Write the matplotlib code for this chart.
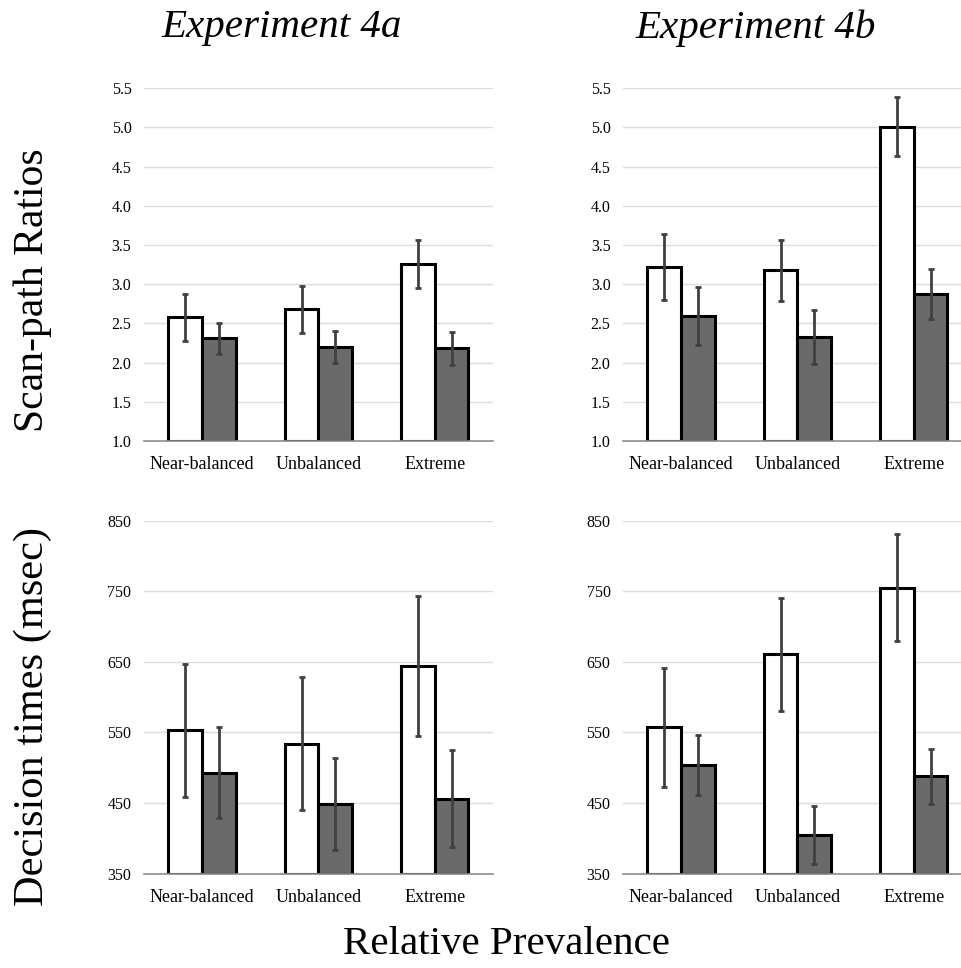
import matplotlib
matplotlib.use("Agg")
import matplotlib.pyplot as plt
import numpy as np

plt.rcParams['font.family'] = ['Liberation Serif', 'DejaVu Serif']

categories = ["Near-balanced", "Unbalanced", "Extreme"]

# Scan-path ratios
sr4a_white = [2.58, 2.68, 3.26]
sr4a_white_err = [0.30, 0.30, 0.31]
sr4a_grey = [2.31, 2.20, 2.18]
sr4a_grey_err = [0.20, 0.20, 0.21]

sr4b_white = [3.22, 3.18, 5.01]
sr4b_white_err = [0.42, 0.39, 0.375]
sr4b_grey = [2.59, 2.33, 2.87]
sr4b_grey_err = [0.37, 0.345, 0.32]

# Decision times
dt4a_white = [553, 534, 644]
dt4a_white_err = [94, 94, 99]
dt4a_grey = [493, 449, 456]
dt4a_grey_err = [65, 65, 69]

dt4b_white = [557, 661, 755]
dt4b_white_err = [84, 80, 76]
dt4b_grey = [504, 405, 488]
dt4b_grey_err = [43, 41, 39]

sr_ticks = [1.0, 1.5, 2.0, 2.5, 3.0, 3.5, 4.0, 4.5, 5.0, 5.5]
dt_ticks = [350, 450, 550, 650, 750, 850]

fig = plt.figure(figsize=(9.61, 9.68), dpi=100)

W = 0.363
H = 0.3645
positions = {
    (0, 0): [0.1498, 0.5444, W, H],
    (0, 1): [0.6483, 0.5444, W, H],
    (1, 0): [0.1498, 0.0976, W, H],
    (1, 1): [0.6483, 0.0976, W, H],
}

panels = [
    ((0, 0), sr4a_white, sr4a_white_err, sr4a_grey, sr4a_grey_err, sr_ticks, "{:.1f}"),
    ((0, 1), sr4b_white, sr4b_white_err, sr4b_grey, sr4b_grey_err, sr_ticks, "{:.1f}"),
    ((1, 0), dt4a_white, dt4a_white_err, dt4a_grey, dt4a_grey_err, dt_ticks, "{:.0f}"),
    ((1, 1), dt4b_white, dt4b_white_err, dt4b_grey, dt4b_grey_err, dt_ticks, "{:.0f}"),
]

x = np.arange(len(categories))
bw = 0.29
for key, wv, we, gv, ge, ticks, fmt in panels:
    ax = fig.add_axes(positions[key])
    base = ticks[0]
    ax.bar(x - bw / 2, np.array(wv) - base, bw, bottom=base, color="white",
           edgecolor="black", linewidth=2.2, zorder=3)
    ax.bar(x + bw / 2, np.array(gv) - base, bw, bottom=base, color="#6a6a6a",
           edgecolor="black", linewidth=2.2, zorder=3)
    ax.errorbar(x - bw / 2, wv, yerr=we, fmt="none", ecolor="#404040",
                elinewidth=2, capsize=2.5, capthick=2, zorder=4)
    ax.errorbar(x + bw / 2, gv, yerr=ge, fmt="none", ecolor="#404040",
                elinewidth=2, capsize=2.5, capthick=2, zorder=4)
    ax.set_xlim(-0.5, 2.5)
    ax.set_ylim(ticks[0], ticks[-1])
    ax.set_yticks(ticks)
    ax.set_yticklabels([fmt.format(t) for t in ticks], fontsize=11.5)
    ax.set_xticks(x)
    ax.set_xticklabels(categories, fontsize=13)
    ax.tick_params(axis="y", length=0, pad=9)
    ax.tick_params(axis="x", length=0, pad=11)
    ax.grid(axis="y", color="#dcdcdc", linewidth=1, zorder=0)
    ax.set_axisbelow(True)
    for s in ["top", "right", "left"]:
        ax.spines[s].set_visible(False)
    ax.spines["bottom"].set_color("#8c8c8c")
    ax.spines["bottom"].set_linewidth(1.2)
    ax.spines["bottom"].set_zorder(5)

fig.text(282 / 961, 1 - 28 / 968, "Experiment 4a", fontsize=29.5, style="italic",
         ha="center", va="center")
fig.text(756 / 961, 1 - 28 / 968, "Experiment 4b", fontsize=29.5, style="italic",
         ha="center", va="center")
fig.text(33 / 961, 1 - 290 / 968, "Scan-path Ratios", fontsize=30, rotation=90,
         ha="center", va="center")
fig.text(33 / 961, 1 - 716 / 968, "Decision times (msec)", fontsize=30.5, rotation=90,
         ha="center", va="center")
fig.text(506 / 961, 1 - 945 / 968, "Relative Prevalence", fontsize=29.5,
         ha="center", va="center")

fig.savefig("out.png", dpi=100, facecolor="white")
